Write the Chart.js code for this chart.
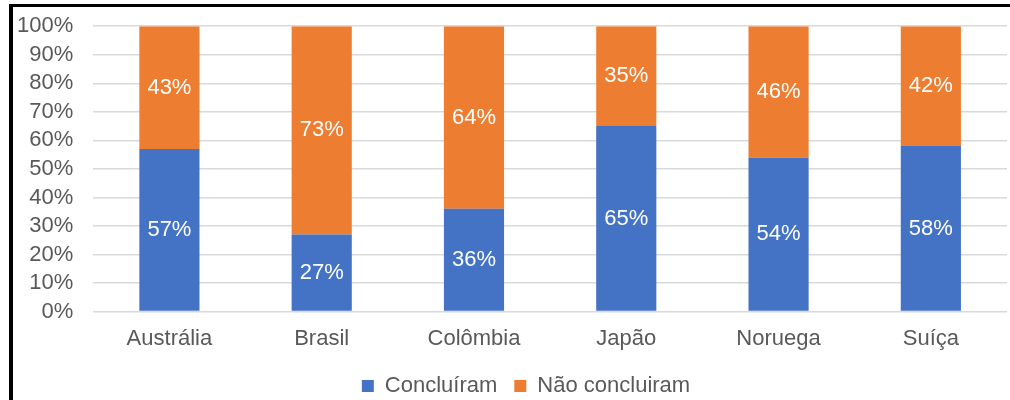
<!DOCTYPE html>
<html>
<head>
<meta charset="utf-8">
<script src="https://cdn.jsdelivr.net/npm/chart.js@4/dist/chart.umd.min.js"></script>
<style>
  html, body { margin: 0; padding: 0; background: #fff; }
  #wrap { position: relative; width: 1010px; height: 400px; overflow: hidden; }
  #frame { position: absolute; left: 9px; top: 4px; width: 1010px; height: 400px;
           border-left: 4px solid #000; border-top: 3px solid #000; box-sizing: border-box; z-index: 2; }
  canvas { position: absolute; left: -18px; top: -7px; }
</style>
</head>
<body>
<div id="wrap">
  <canvas id="barras" width="1028" height="414"></canvas>
  <div id="frame"></div>
</div>
<script>
// categorias e valores (%)
const paises = ['Austrália', 'Brasil', 'Colômbia', 'Japão', 'Noruega', 'Suíça'];
const concluiram = [57, 27, 36, 65, 54, 58];
const naoConcluiram = [43, 73, 64, 35, 46, 42];
const ticksY = [0, 10, 20, 30, 40, 50, 60, 70, 80, 90, 100];

//ESCREVE OS VALORES DENTRO DAS BARRAS
const rotulosBarras = {
  id: 'rotulosBarras',
  afterDatasetsDraw(chart) {
    const ctx = chart.ctx;
    ctx.save();
    ctx.fillStyle = '#ffffff';
    ctx.font = '22px "Liberation Sans", Arial, sans-serif';
    ctx.textAlign = 'center';
    ctx.textBaseline = 'middle';
    chart.data.datasets.forEach((ds, i) => {
      chart.getDatasetMeta(i).data.forEach((bar, j) => {
        const meio = (bar.y + bar.base) / 2;
        ctx.fillText(ds.data[j] + '%', bar.x, meio);
      });
    });
    ctx.restore();
  }
};

//EMPURRA A LEGENDA UM POUCO PARA A DIREITA
const deslocaLegenda = {
  id: 'deslocaLegenda',
  afterLayout(chart) {
    const lg = chart.legend;
    if (!lg) return;
    lg.left += 24;
    lg.right += 24;
  }
};

const cor = '#595959';
const fonte = { family: '"Liberation Sans", Arial, sans-serif', size: 22 };

new Chart(document.getElementById('barras'), {
  type: 'bar',
  data: {
    labels: paises,
    datasets: [
      { label: 'Concluíram', data: concluiram, backgroundColor: '#4472C4', barPercentage: 0.395, categoryPercentage: 1 },
      { label: 'Não concluiram', data: naoConcluiram, backgroundColor: '#ED7D31', barPercentage: 0.395, categoryPercentage: 1 }
    ]
  },
  options: {
    responsive: false,
    animation: false,
    layout: { padding: { left: 15, right: 3, top: 3, bottom: 0 } },
    plugins: {
      legend: {
        position: 'bottom',
        labels: { color: cor, font: fonte, boxWidth: 12, boxHeight: 12, padding: 17 }
      },
      tooltip: { enabled: false }
    },
    scales: {
      x: {
        stacked: true,
        grid: { display: false },
        border: { display: false },
        ticks: { color: cor, font: fonte, padding: 6 }
      },
      y: {
        stacked: true,
        min: 0,
        max: 100,
        afterBuildTicks: (axis) => { axis.ticks = ticksY.map(v => ({ value: v })); },
        grid: { color: '#d9d9d9', lineWidth: 1.5, drawTicks: false },
        border: { display: false },
        ticks: { color: cor, font: fonte, padding: 20, autoSkip: false, callback: v => v + '%' }
      }
    }
  },
  plugins: [rotulosBarras, deslocaLegenda]
});
</script>
</body>
</html>
